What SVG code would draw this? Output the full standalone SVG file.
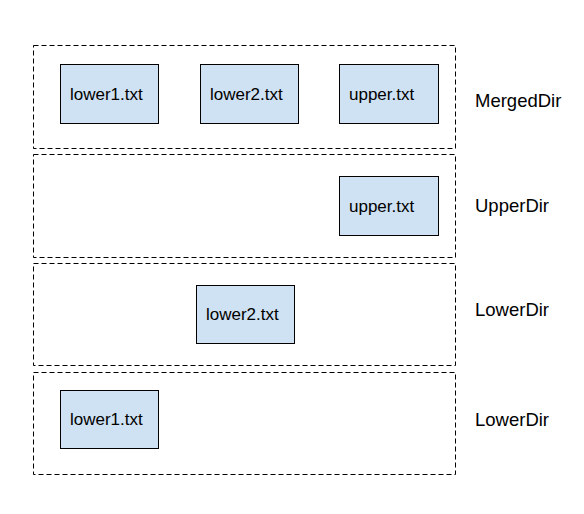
<svg xmlns="http://www.w3.org/2000/svg" width="584" height="514" viewBox="0 0 584 514">
<style>
.dir{fill:none;stroke:#000;stroke-width:1;stroke-dasharray:5 3}
.file{fill:#cfe2f3;stroke:#000;stroke-width:1}
.t{font-family:"Liberation Sans",Arial,sans-serif;font-size:17px;fill:#000}
.lbl{font-family:"Liberation Sans",Arial,sans-serif;font-size:18.5px;fill:#000}
</style>
<rect width="584" height="514" fill="#fff"/>
<g id="merged">
<rect class="dir" x="33.5" y="45.5" width="422" height="103"/>
<text class="lbl" x="475" y="107">MergedDir</text>
</g>
<g id="upper">
<rect class="dir" x="33.5" y="154.5" width="422" height="103"/>
<text class="lbl" x="475" y="212">UpperDir</text>
</g>
<g id="lower2dir">
<rect class="dir" x="33.5" y="263.5" width="422" height="102"/>
<text class="lbl" x="475" y="316">LowerDir</text>
</g>
<g id="lower1dir">
<rect class="dir" x="33.5" y="372.5" width="422" height="102"/>
<text class="lbl" x="475" y="426">LowerDir</text>
</g>
<g id="m_lower1">
<rect class="file" x="60.5" y="64.5" width="98" height="59"/>
<text class="t" x="70" y="100">lower1.txt</text>
</g>
<g id="m_lower2">
<rect class="file" x="200.5" y="64.5" width="98" height="59"/>
<text class="t" x="210" y="100">lower2.txt</text>
</g>
<g id="m_upper">
<rect class="file" x="339.5" y="64.5" width="99" height="59"/>
<text class="t" x="349" y="100">upper.txt</text>
</g>
<g id="u_upper">
<rect class="file" x="339.5" y="176.5" width="99" height="59"/>
<text class="t" x="349" y="212">upper.txt</text>
</g>
<g id="l_lower2">
<rect class="file" x="196.5" y="285.5" width="98" height="58"/>
<text class="t" x="206" y="320">lower2.txt</text>
</g>
<g id="l_lower1">
<rect class="file" x="60.5" y="390.5" width="98" height="58"/>
<text class="t" x="70" y="425">lower1.txt</text>
</g>
<g id="connectors"/>
</svg>
